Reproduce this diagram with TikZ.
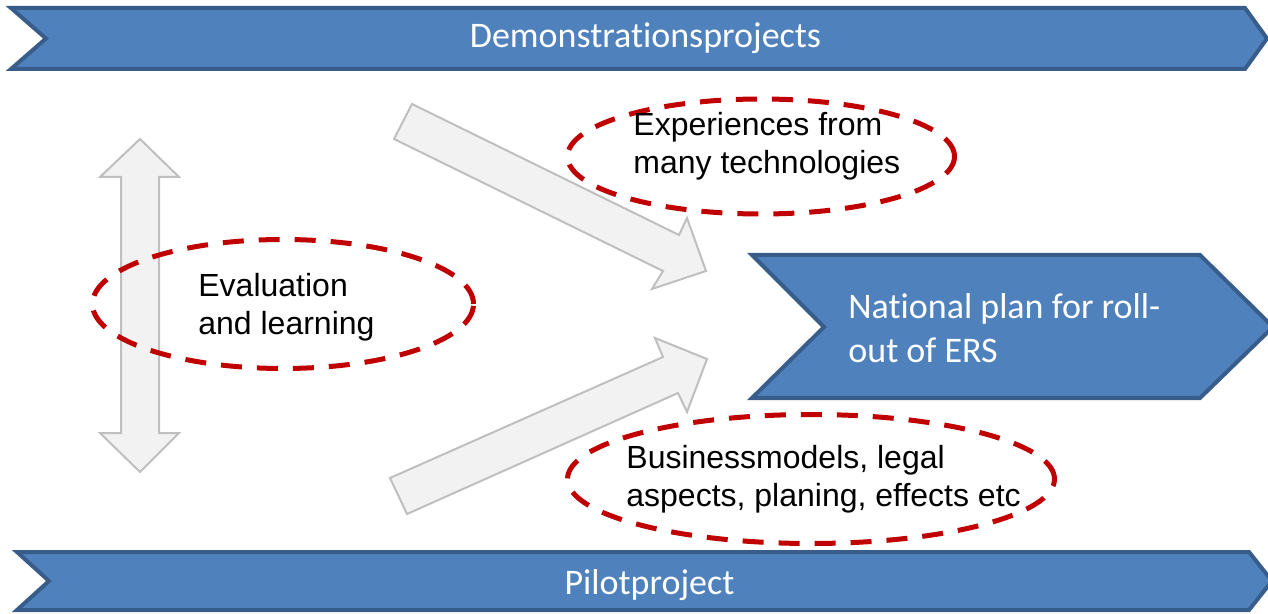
\documentclass[tikz,border=0pt]{standalone}
\usepackage{fontspec}
\setmainfont{Liberation Sans}
\newfontfamily\calibrifont[Ligatures=NoCommon]{Carlito}
\usepackage{tikz}
\usetikzlibrary{calc}
\definecolor{bannerblue}{HTML}{4F81BD}
\definecolor{bannerline}{HTML}{385D8A}
\definecolor{arrowfill}{HTML}{F2F2F2}
\definecolor{arrowline}{HTML}{BFBFBF}
\definecolor{ringred}{HTML}{C00000}

\begin{document}
\begin{tikzpicture}[x=0.5pt,y=-0.5pt,
    banner/.style={fill=bannerblue,draw=bannerline,line width=2pt,line join=miter},
    grayarrow/.style={fill=arrowfill,draw=arrowline,line width=1pt},
    bubble/.style={draw=ringred,line width=2.5pt,dash pattern=on 10.5pt off 7.5pt},
    bannertxt/.style={text=white,font=\calibrifont\fontsize{18pt}{22pt}\selectfont,inner sep=0pt},
    bubbletxt/.style={text=black,font=\fontsize{16pt}{19pt}\selectfont,align=left,inner sep=0pt,anchor=north west}]
    \useasboundingbox (0,0) rectangle (1268,614);
    \draw[banner] (11,8) -- (1245,8) -- (1267,38.5) -- (1245,69) -- (11,69) -- (46,38.5) -- cycle;
    \draw[banner] (17,552) -- (1249,552) -- (1272,581) -- (1249,610) -- (17,610) -- (49,581) -- cycle;
    \draw[banner] (752,255) -- (1200,255) -- (1273,327) -- (1200,398) -- (752,398) -- (824,327) -- cycle;
    \draw[grayarrow] (140,139) -- (179,177) -- (159,177) -- (159,433) -- (179,433) -- (140,472)
        -- (100,433) -- (121,433) -- (121,177) -- (100,177) -- cycle;
    \draw[grayarrow] (412,104) -- (679,235) -- (687,218) -- (706,271) -- (652,289) -- (663,271) -- (394,139) -- cycle;
    \draw[grayarrow] (390,478) -- (663,357) -- (655,338) -- (707,359) -- (687,412) -- (678,393) -- (407,514) -- cycle;
    \draw[bubble] (283,304) ellipse [x radius=95.25pt, y radius=32.25pt];
    \draw[bubble] (761,156.5) ellipse [x radius=96.75pt, y radius=28.75pt];
    \draw[bubble] (811,479) ellipse [x radius=121.75pt, y radius=32.25pt];
    \node[bannertxt,anchor=base] (demotxt) at (645.5,48) {Demonstrationsprojects};
    \node[bannertxt,anchor=base] (pilottxt) at (649.5,594) {Pilotproject};
    \node[bannertxt,align=left,anchor=north west] (plantxt) at (848,293) {National plan for roll-\\out of ERS};
    \node[bubbletxt] (evaltxt) at (198,273) {Evaluation\\and learning};
    \node[bubbletxt] (exptxt) at (633,112) {Experiences from\\many technologies};
    \node[bubbletxt] (bustxt) at (626,445) {Businessmodels, legal\\aspects, planing, effects etc};
\end{tikzpicture}
\end{document}
